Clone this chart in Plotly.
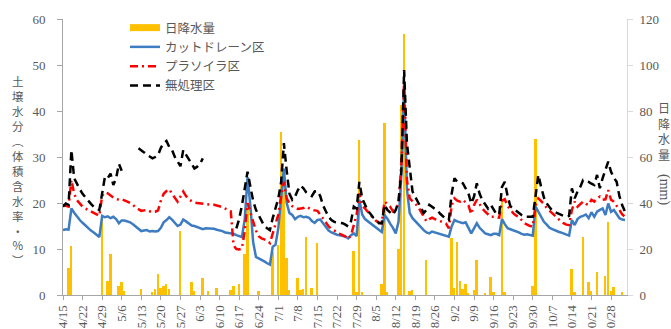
import pandas as pd
import plotly.graph_objects as go

# Daily observation period
START = "2019-04-15"
N_DAYS = 202
dates = pd.date_range(START, periods=N_DAYS, freq="D")

# Soil moisture (volumetric water content, %) - カットドレーン区
cut_drain = [
    14.1, 14.3, 14.2, 18.8, 17.9, 17.0, 16.3,
    15.7, 15.1, 14.6, 14.0, 13.6, 13.1, 12.6,
    17.2, 16.9, 17.1, 16.7, 17.0, 16.5, 15.6,
    16.2, 16.2, 16.0, 15.8, 15.4, 14.9, 14.3,
    13.9, 14.0, 14.1, 13.8, 13.9, 13.8, 13.9,
    14.6, 15.8, 16.3, 16.9, 16.4, 15.8, 15.0,
    15.3, 16.4, 16.0, 15.6, 15.1, 15.0, 14.8,
    14.6, 14.3, 14.5, 14.5, 14.5, 14.4, 14.2,
    14.1, 13.9, 13.6, 13.5, 13.3, 13.3, 13.0,
    12.8, 12.6, 16.5, 25.6, 19.5, 11.5, 8.3,
    8.0, 7.6, 7.3, 6.9, 6.6, 10.5, 10.9,
    14.5, 21.5, 27.5, 20.0, 17.8, 17.4, 16.5,
    17.0, 17.2, 16.9, 17.0, 16.8, 16.1, 15.7,
    16.3, 16.4, 15.6, 14.8, 14.0, 13.6, 13.3,
    13.1, 13.0, 12.9, 12.7, 12.3, 13.0, 13.4,
    12.8, 20.7, 17.5, 16.5, 16.0, 15.5, 15.0,
    14.6, 14.2, 13.7, 17.4, 16.6, 15.5, 14.6,
    13.4, 15.9, 26.0, 45.0, 23.0, 17.8, 16.7,
    16.0, 15.5, 14.8, 14.1, 13.6, 13.4, 13.8,
    13.6, 13.4, 13.2, 13.0, 12.9, 12.7, 14.9,
    16.3, 16.0, 15.8, 15.6, 15.8, 14.6, 13.4,
    14.5, 15.6, 14.6, 14.0, 13.4, 13.2, 13.0,
    13.3, 13.3, 13.0, 16.5, 15.4, 14.5, 14.3,
    14.1, 13.8, 13.6, 13.3, 13.1, 13.2, 13.0,
    12.9, 19.2, 18.0, 17.0, 15.9, 15.3, 14.6,
    14.3, 14.0, 13.8, 13.6, 13.4, 13.2, 12.9,
    16.3, 15.2, 16.5, 17.0, 17.2, 17.5, 16.7,
    18.0, 17.0, 18.1, 18.5, 18.8, 17.4, 19.9,
    18.1, 18.5, 17.6, 16.7, 16.4, 16.3,
]

# プラソイラ区
plasoiler = [
    19.6, 19.4, 19.2, 25.0, 22.0, 20.6, 19.8,
    19.2, 18.8, 18.5, 18.1, 17.8, 17.5, 17.2,
    21.6, 22.3, 22.1, 21.6, 21.2, 20.9, 20.7,
    20.8, 20.6, 20.3, 20.0, 19.6, 19.0, 18.6,
    18.3, 18.4, 18.5, 18.2, 18.0, 18.1, 18.4,
    20.5, 22.0, 22.6, 23.0, 22.0, 21.2, 20.3,
    21.4, 22.5, 21.5, 20.8, 20.4, 20.1, 20.0,
    19.9, 19.8, 19.7, 19.7, 19.6, 19.6, 19.5,
    19.3, 19.1, 18.8, 18.5, 18.2, 10.8, 10.0,
    9.9, 10.1, 14.0, 20.0, 18.0, 16.0, 14.0,
    12.8, 12.3, 12.1, 11.8, 11.3, 13.5, 15.5,
    17.5, 21.5, 24.6, 21.0, 19.9, 19.3, 19.0,
    18.7, 18.8, 18.9, 19.2, 18.8, 18.5, 18.4,
    18.3, 17.5, 16.6, 15.6, 14.9, 14.4, 14.0,
    13.6, 13.3, 13.0, 12.7, 12.2, 13.0, 15.2,
    17.4, 22.1, 19.5, 18.8, 18.0, 17.4, 16.7,
    16.1, 15.8, 15.6, 20.3, 19.8, 19.2, 18.2,
    18.8, 19.8, 28.5, 46.5, 25.0, 21.0, 20.5,
    19.8, 19.2, 18.2, 17.2, 16.0, 16.5, 16.8,
    16.5, 16.3, 16.0, 15.8, 15.5, 14.5, 19.5,
    21.0, 20.5, 20.3, 20.7, 20.0, 19.5, 17.6,
    19.5, 20.7, 19.6, 18.8, 18.1, 17.5, 17.0,
    17.0, 17.0, 16.8, 20.5, 20.8, 19.3, 18.6,
    17.8, 17.3, 17.0, 16.3, 15.6, 15.3, 15.0,
    14.9, 19.5, 21.0, 20.4, 19.8, 18.9, 18.4,
    17.8, 17.2, 16.6, 16.0, 15.6, 15.3, 15.2,
    18.5, 20.3, 19.2, 19.8, 20.3, 19.8, 19.6,
    20.7, 20.3, 21.0, 21.4, 20.7, 20.8, 22.8,
    20.7, 20.3, 19.5, 18.5, 17.5, 17.0,
]

# 無処理区 (None = no measurement)
untreated = [
    19.2, 19.9, 19.6, 31.5, 25.4, 24.0, 23.0,
    22.0, 21.2, 20.5, 19.8, 19.2, 18.8, 18.5,
    22.1, 25.7, 25.4, 26.4, 23.9, 25.4, 28.5,
    27.0, None, None, None, None, None, 31.9,
    31.5, 31.0, 30.5, 30.0, 29.7, 30.0, 30.4,
    32.0, 33.0, 33.5, 32.2, 31.5, 30.0, 29.0,
    28.0, 31.5, 30.4, 29.5, 28.5, 27.5, 27.9,
    28.5, 29.7, None, None, None, None, None,
    None, None, None, None, None, None, 14.5,
    16.5, 19.5, 23.0, 26.8, 23.6, 20.5, 18.5,
    17.4, 16.0, 15.0, 14.5, 14.1, 16.7, 19.0,
    21.0, 24.5, 33.0, 27.0, 22.0, 20.7, 21.4,
    22.8, 23.8, 23.2, 22.3, 21.8, 21.5, 22.5,
    22.6, 21.5, 19.5, 18.2, 17.0, 16.3, 15.9,
    15.8, 15.7, 15.6, 15.3, 14.9, 16.0, 19.2,
    18.8, 24.6, 21.0, 19.5, 18.3, 17.6, 16.8,
    16.3, 15.6, 15.6, 19.6, 18.5, 18.0, 17.4,
    18.5, 20.3, 27.0, 48.9, 33.0, 27.0, 22.5,
    21.3, 20.3, 19.0, 17.8, 18.5, 19.6, 19.2,
    18.8, 18.3, 17.6, 17.0, 16.5, 16.3, 22.0,
    25.4, 24.6, 24.5, 24.3, 23.2, 22.1, 19.9,
    21.4, 24.3, 22.0, 20.6, 19.8, 18.8, 19.6,
    18.5, 17.6, 17.5, 23.5, 24.6, 21.5, 19.3,
    18.8, 18.2, 17.8, 17.4, 17.0, 17.0, 17.0,
    17.0, 21.5, 26.1, 23.5, 21.2, 19.9, 19.0,
    18.3, 18.0, 17.7, 17.4, 17.2, 17.0, 17.2,
    23.2, 21.0, 22.5, 23.5, 25.0, 24.8, 24.6,
    24.2, 23.9, 26.1, 23.2, 25.4, 27.0, 29.0,
    26.8, 25.5, 24.6, 21.5, 19.5, 18.1,
]

# Daily rainfall (mm), days with rain only
rain_dates = [
    "2019-04-17", "2019-04-18", "2019-04-29", "2019-05-01", "2019-05-02",
    "2019-05-05", "2019-05-06", "2019-05-07", "2019-05-13", "2019-05-17",
    "2019-05-18", "2019-05-19", "2019-05-20", "2019-05-21", "2019-05-22",
    "2019-05-23", "2019-05-27", "2019-05-31", "2019-06-01", "2019-06-04",
    "2019-06-06", "2019-06-09", "2019-06-14", "2019-06-15", "2019-06-17",
    "2019-06-19", "2019-06-20", "2019-06-24", "2019-06-29", "2019-07-01",
    "2019-07-02", "2019-07-03", "2019-07-04", "2019-07-05", "2019-07-08",
    "2019-07-09", "2019-07-10", "2019-07-11", "2019-07-13", "2019-07-15",
    "2019-07-28", "2019-07-29", "2019-07-30", "2019-07-31", "2019-08-07",
    "2019-08-08", "2019-08-09", "2019-08-13", "2019-08-14", "2019-08-15",
    "2019-08-17", "2019-08-18", "2019-08-23", "2019-09-01", "2019-09-02",
    "2019-09-03", "2019-09-04", "2019-09-05", "2019-09-06", "2019-09-07",
    "2019-09-09", "2019-09-10", "2019-09-13", "2019-09-15", "2019-09-16",
    "2019-09-19", "2019-09-20", "2019-09-30", "2019-10-01", "2019-10-14",
    "2019-10-15", "2019-10-18", "2019-10-20", "2019-10-21", "2019-10-23",
    "2019-10-26", "2019-10-27", "2019-10-28", "2019-10-29", "2019-11-01",
]
rain_mm = [
    11.6, 21.4, 35.0, 6.0, 17.7,
    4.0, 5.5, 1.7, 2.6, 1.2,
    2.6, 9.0, 3.2, 4.0, 4.6,
    2.6, 27.8, 5.8, 1.7, 7.5,
    1.7, 3.2, 2.2, 4.0, 4.6,
    18.0, 40.0, 1.7, 18.8, 21.7,
    70.7, 55.0, 16.0, 2.2, 7.2,
    2.2, 2.6, 25.4, 2.9, 22.5,
    19.3, 1.4, 67.4, 1.4, 4.6,
    74.6, 1.4, 19.9, 82.6, 113.5,
    1.6, 2.0, 15.2, 25.0, 2.9,
    23.2, 6.0, 2.6, 5.0, 0.7,
    2.2, 15.2, 0.7, 7.7, 1.2,
    41.0, 1.2, 4.0, 68.0, 11.2,
    1.4, 25.1, 5.5, 1.7, 10.1,
    8.4, 31.6, 1.7, 3.6, 1.2,
]

SERIF = "Liberation Serif, Noto Sans CJK JP, serif"
JP = "Noto Sans CJK JP, sans-serif"
TEXT = "#595959"
DAY_MS = 86400000

fig = go.Figure()

# legend swatch for the rainfall bars (thick orange line like the original legend)
fig.add_trace(go.Scatter(
    x=[None], y=[None], mode="lines", name="日降水量",
    line=dict(color="#FFC000", width=7), yaxis="y",
))
fig.add_trace(go.Bar(
    x=rain_dates, y=rain_mm, name="日降水量", showlegend=False,
    marker=dict(color="#FFC000", line=dict(width=0)),
    width=0.7 * DAY_MS, yaxis="y",
))
fig.add_trace(go.Scatter(
    x=dates, y=cut_drain, mode="lines", name="カットドレーン区",
    line=dict(color="#3E7CC1", width=2.5), yaxis="y2",
))
fig.add_trace(go.Scatter(
    x=dates, y=plasoiler, mode="lines", name="プラソイラ区",
    line=dict(color="#FF0000", width=2.5, dash="8px,4px,2px,4px"), yaxis="y2",
))
fig.add_trace(go.Scatter(
    x=dates, y=untreated, mode="lines", name="無処理区",
    line=dict(color="#000000", width=2.5, dash="8px,5px"), yaxis="y2",
    connectgaps=False,
))

W, H = 671, 329
L, R, T, B = 63, 44, 19, 34
PW, PH = W - L - R, H - T - B


def px_to_paper_x(px):
    return (px - L) / PW


def px_to_paper_y(py):
    return (H - B - py) / PH


# axis titles written vertically, one character per line
left_title = "<br>".join(["土", "壌", "水", "分", "︵", "体", "積", "含", "水", "率", "・", "%", "︶"])
right_title = "<br>".join(["日", "降", "水", "量"])

annotations = [
    dict(
        text=left_title, x=px_to_paper_x(18), y=px_to_paper_y(170),
        xref="paper", yref="paper", showarrow=False,
        xanchor="center", yanchor="middle",
        font=dict(family=JP, size=11.5, color=TEXT),
    ),
    dict(
        text=right_title, x=px_to_paper_x(664), y=px_to_paper_y(131),
        xref="paper", yref="paper", showarrow=False,
        xanchor="center", yanchor="middle",
        font=dict(family=JP, size=12, color=TEXT),
    ),
    dict(
        text="(mm)", x=px_to_paper_x(664), y=px_to_paper_y(189),
        xref="paper", yref="paper", showarrow=False, textangle=90,
        xanchor="center", yanchor="middle",
        font=dict(family=SERIF, size=14, color=TEXT),
    ),
]

fig.update_layout(
    width=W, height=H,
    margin=dict(l=L, r=R, t=T, b=B, pad=0),
    paper_bgcolor="white", plot_bgcolor="white",
    showlegend=True,
    legend=dict(
        x=px_to_paper_x(125), y=px_to_paper_y(13), xanchor="left", yanchor="top",
        bgcolor="rgba(0,0,0,0)", font=dict(family=JP, size=12.5, color=TEXT),
        tracegroupgap=0, traceorder="normal",
    ),
    bargap=0,
    annotations=annotations,
    xaxis=dict(
        type="date",
        range=["2019-04-15", "2019-11-02 17:00"],
        tick0="2019-04-15", dtick=7 * DAY_MS, tickformat="%-m/%-d",
        tickangle=-90, ticks="outside", ticklen=4, tickcolor="#A6A6A6",
        showline=True, linecolor="#A6A6A6", linewidth=1,
        showgrid=False, zeroline=False, automargin=False,
        tickfont=dict(family=SERIF, size=13, color=TEXT),
    ),
    yaxis=dict(
        side="right", range=[0, 120], dtick=20,
        ticks="outside", ticklen=5, tickcolor="#D9D9D9",
        showline=True, linecolor="#D9D9D9", linewidth=1,
        showgrid=False, zeroline=False, automargin=False,
        ticklabelstandoff=4,
        tickfont=dict(family=SERIF, size=13, color=TEXT),
    ),
    yaxis2=dict(
        overlaying="y", side="left", anchor="x", range=[0, 60], dtick=10,
        ticks="outside", ticklen=5, tickcolor="#A6A6A6",
        showline=True, linecolor="#A6A6A6", linewidth=1,
        showgrid=False, zeroline=False, automargin=False,
        ticklabelstandoff=9,
        tickfont=dict(family=SERIF, size=13, color=TEXT),
    ),
)

fig.write_html("out.html")
